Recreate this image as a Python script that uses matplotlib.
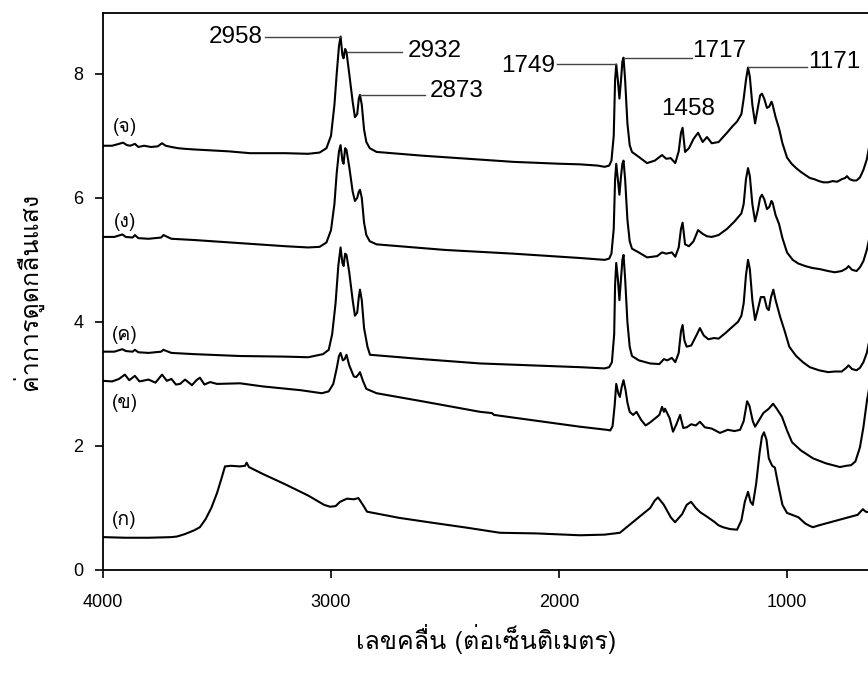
import matplotlib
matplotlib.use("Agg")
import matplotlib.pyplot as plt
from matplotlib import font_manager
from matplotlib.ft2font import FT2Font

# ---- ข้อมูลสเปกตรัม (เลขคลื่น, ค่าการดูดกลืนแสง) อ่านจากรูป ----
wn_a = [4000, 3900, 3800, 3700, 3675, 3640, 3600, 3575, 3550, 3525, 3500, 3480, 3465,
        3440, 3400, 3377, 3370, 3360, 3300, 3200, 3100, 3030, 3004, 2980, 2960, 2930,
        2900, 2880, 2860, 2842, 2700, 2552, 2400, 2259, 2100, 1908, 1800, 1733, 1700,
        1650, 1600, 1580, 1566, 1540, 1510, 1491, 1460, 1440, 1421, 1400, 1380, 1351,
        1320, 1300, 1281, 1250, 1219, 1200, 1185, 1171, 1160, 1150, 1135, 1120, 1110,
        1101, 1090, 1080, 1065, 1053, 1040, 1020, 1000, 978, 950, 920, 900, 886, 860,
        820, 760, 700, 690, 675, 667, 655, 636]
ab_a = [0.53, 0.52, 0.52, 0.53, 0.54, 0.58, 0.64, 0.69, 0.82, 1.00, 1.24, 1.48, 1.67,
        1.68, 1.67, 1.68, 1.73, 1.66, 1.55, 1.38, 1.20, 1.05, 1.02, 1.03, 1.10, 1.15,
        1.14, 1.16, 1.05, 0.94, 0.84, 0.76, 0.68, 0.60, 0.59, 0.56, 0.57, 0.60, 0.70,
        0.85, 1.00, 1.12, 1.17, 1.05, 0.85, 0.77, 0.90, 1.05, 1.10, 1.00, 0.93, 0.86,
        0.78, 0.72, 0.69, 0.66, 0.65, 0.80, 1.10, 1.26, 1.10, 1.05, 1.40, 1.90, 2.15,
        2.22, 2.10, 1.80, 1.68, 1.65, 1.40, 1.05, 0.92, 0.89, 0.85, 0.75, 0.71, 0.69, 0.72,
        0.76, 0.82, 0.88, 0.89, 0.95, 0.98, 0.94, 0.93]

wn_b = [4000, 3960, 3930, 3904, 3885, 3860, 3840, 3800, 3770, 3741, 3720, 3700, 3680,
        3662, 3640, 3610, 3590, 3575, 3555, 3530, 3500, 3399, 3300, 3136, 3040, 3010,
        2990, 2975, 2965, 2958, 2948, 2940, 2932, 2920, 2900, 2890, 2880, 2873, 2860,
        2845, 2800, 2600, 2346, 2294, 2285, 1908, 1790, 1775, 1765, 1756, 1749, 1740,
        1733, 1725, 1717, 1708, 1700, 1690, 1675, 1660, 1640, 1620, 1600, 1560, 1548,
        1540, 1535, 1515, 1500, 1485, 1469, 1455, 1440, 1420, 1400, 1382, 1360, 1330,
        1294, 1260, 1230, 1206, 1190, 1175, 1165, 1150, 1140, 1125, 1104, 1080, 1061,
        1045, 1022, 1000, 978, 940, 886, 830, 768, 740, 719, 700, 680, 665, 649, 636]
ab_b = [3.05, 3.04, 3.08, 3.15, 3.06, 3.13, 3.04, 3.07, 3.02, 3.15, 3.05, 3.08, 2.99,
        3.00, 3.07, 2.98, 3.06, 3.10, 2.99, 3.03, 3.00, 3.01, 2.96, 2.90, 2.85, 2.88,
        3.00, 3.25, 3.45, 3.50, 3.38, 3.40, 3.47, 3.30, 3.12, 3.11, 3.15, 3.19, 3.05,
        2.92, 2.85, 2.72, 2.55, 2.53, 2.50, 2.31, 2.26, 2.25, 2.32, 2.65, 3.00, 2.85,
        2.79, 2.95, 3.06, 2.90, 2.70, 2.55, 2.50, 2.55, 2.42, 2.33, 2.38, 2.50, 2.63,
        2.55, 2.60, 2.45, 2.23, 2.35, 2.50, 2.29, 2.30, 2.35, 2.33, 2.39, 2.30, 2.28,
        2.21, 2.26, 2.24, 2.26, 2.40, 2.72, 2.65, 2.40, 2.31, 2.40, 2.53, 2.60, 2.68,
        2.60, 2.47, 2.25, 2.06, 1.93, 1.80, 1.72, 1.66, 1.68, 1.69, 1.75, 1.98, 2.30, 2.74, 3.00]

wn_c = [4000, 3950, 3915, 3900, 3870, 3860, 3845, 3800, 3745, 3735, 3700, 3600, 3400,
        3200, 3100, 3035, 3010, 2995, 2980, 2968, 2958, 2950, 2945, 2938, 2932, 2920,
        2905, 2895, 2885, 2878, 2873, 2865, 2855, 2840, 2829, 2600, 2346, 1908, 1800,
        1780, 1768, 1758, 1754, 1749, 1742, 1735, 1728, 1722, 1717, 1710, 1700, 1690,
        1680, 1650, 1600, 1560, 1540, 1525, 1505, 1490, 1475, 1465, 1458, 1450, 1440,
        1420, 1395, 1382, 1365, 1345, 1320, 1300, 1270, 1240, 1215, 1200, 1190, 1180,
        1171, 1163, 1152, 1140, 1128, 1115, 1100, 1088, 1080, 1070, 1060, 1050, 1030,
        1010, 990, 960, 930, 900, 860, 820, 790, 760, 740, 730, 715, 695, 680, 665, 650, 636]
ab_c = [3.52, 3.52, 3.56, 3.53, 3.52, 3.55, 3.51, 3.50, 3.52, 3.55, 3.50, 3.48, 3.45,
        3.44, 3.43, 3.48, 3.55, 3.80, 4.30, 4.90, 5.20, 4.95, 4.90, 5.10, 5.08, 4.80,
        4.35, 4.10, 4.15, 4.40, 4.52, 4.35, 3.90, 3.60, 3.47, 3.40, 3.33, 3.27, 3.25,
        3.27, 3.35, 3.80, 4.60, 4.95, 4.70, 4.35, 4.70, 5.00, 5.08, 4.70, 4.00, 3.60,
        3.45, 3.38, 3.33, 3.32, 3.40, 3.38, 3.42, 3.35, 3.50, 3.85, 3.95, 3.70, 3.60,
        3.62, 3.80, 3.90, 3.78, 3.72, 3.74, 3.73, 3.82, 3.92, 4.00, 4.10, 4.30, 4.75,
        5.00, 4.85, 4.35, 4.03, 4.20, 4.40, 4.40, 4.22, 4.19, 4.40, 4.52, 4.35, 4.08,
        3.85, 3.60, 3.45, 3.35, 3.27, 3.22, 3.19, 3.20, 3.20, 3.26, 3.30, 3.24, 3.22,
        3.26, 3.35, 3.50, 3.75]

wn_d = [4000, 3950, 3915, 3900, 3870, 3860, 3845, 3800, 3745, 3735, 3700, 3600, 3400,
        3200, 3100, 3050, 3020, 3000, 2985, 2975, 2965, 2958, 2950, 2945, 2938, 2932,
        2920, 2905, 2895, 2885, 2878, 2873, 2865, 2855, 2845, 2830, 2800, 2500, 2200,
        1908, 1800, 1780, 1770, 1760, 1754, 1749, 1742, 1735, 1728, 1722, 1717, 1710,
        1700, 1690, 1680, 1650, 1614, 1570, 1548, 1530, 1505, 1490, 1475, 1465, 1458,
        1447, 1430, 1410, 1390, 1370, 1351, 1330, 1300, 1263, 1230, 1200, 1190, 1180,
        1171, 1163, 1152, 1140, 1128, 1118, 1110, 1100, 1088, 1078, 1068, 1063, 1050,
        1035, 1020, 1000, 975, 950, 920, 890, 855, 820, 790, 760, 740, 730, 715, 695,
        680, 665, 650, 636]
ab_d = [5.37, 5.37, 5.41, 5.37, 5.36, 5.40, 5.35, 5.34, 5.36, 5.40, 5.34, 5.32, 5.27,
        5.22, 5.20, 5.21, 5.28, 5.48, 5.90, 6.40, 6.75, 6.85, 6.60, 6.55, 6.80, 6.77,
        6.50, 6.10, 5.95, 6.00, 6.10, 6.13, 6.00, 5.60, 5.40, 5.30, 5.25, 5.16, 5.10,
        5.03, 5.00, 5.02, 5.10, 5.50, 6.30, 6.55, 6.30, 6.05, 6.35, 6.55, 6.60, 6.30,
        5.65, 5.30, 5.18, 5.12, 5.04, 5.06, 5.12, 5.10, 5.12, 5.05, 5.20, 5.50, 5.60,
        5.25, 5.22, 5.30, 5.48, 5.42, 5.38, 5.37, 5.40, 5.50, 5.62, 5.75, 5.90, 6.30,
        6.48, 6.35, 5.90, 5.62, 5.80, 6.00, 6.05, 5.98, 5.82, 5.85, 5.95, 5.92, 5.72,
        5.58, 5.35, 5.12, 5.00, 4.94, 4.90, 4.87, 4.85, 4.82, 4.80, 4.82, 4.86, 4.90,
        4.84, 4.82, 4.88, 4.98, 5.16, 5.40]

wn_e = [4000, 3960, 3930, 3912, 3895, 3880, 3860, 3845, 3820, 3790, 3760, 3741, 3725,
        3700, 3670, 3640, 3600, 3550, 3500, 3450, 3355, 3200, 3100, 3050, 3020, 3000,
        2985, 2975, 2965, 2958, 2950, 2945, 2938, 2932, 2920, 2905, 2895, 2885, 2878,
        2873, 2865, 2855, 2845, 2830, 2800, 2600, 2400, 2200, 2000, 1908, 1830, 1800,
        1780, 1770, 1760, 1754, 1749, 1742, 1735, 1728, 1722, 1717, 1710, 1700, 1690,
        1680, 1650, 1614, 1580, 1548, 1530, 1510, 1490, 1475, 1465, 1458, 1447, 1430,
        1410, 1390, 1370, 1351, 1330, 1300, 1263, 1240, 1219, 1200, 1190, 1180, 1171,
        1163, 1152, 1140, 1128, 1118, 1110, 1100, 1088, 1078, 1068, 1063, 1050, 1035,
        1020, 1000, 980, 960, 940, 920, 900, 880, 860, 840, 820, 800, 780, 760, 745,
        737, 725, 710, 695, 680, 665, 650, 636]
ab_e = [6.84, 6.84, 6.87, 6.89, 6.85, 6.84, 6.87, 6.82, 6.84, 6.82, 6.83, 6.88, 6.84,
        6.82, 6.80, 6.79, 6.78, 6.77, 6.76, 6.75, 6.72, 6.72, 6.71, 6.73, 6.80, 7.00,
        7.50, 8.00, 8.45, 8.60, 8.30, 8.25, 8.40, 8.35, 8.00, 7.55, 7.30, 7.35, 7.60,
        7.66, 7.50, 7.10, 6.90, 6.80, 6.74, 6.68, 6.63, 6.58, 6.55, 6.54, 6.52, 6.50,
        6.52, 6.60, 7.00, 7.90, 8.15, 7.90, 7.60, 7.90, 8.20, 8.26, 7.90, 7.20, 6.85,
        6.74, 6.66, 6.56, 6.60, 6.69, 6.63, 6.64, 6.56, 6.75, 7.05, 7.13, 6.74, 6.80,
        6.95, 7.05, 6.90, 6.98, 6.88, 6.90, 7.05, 7.15, 7.23, 7.35, 7.60, 7.90, 8.10,
        7.95, 7.50, 7.20, 7.45, 7.65, 7.68, 7.60, 7.45, 7.47, 7.55, 7.50, 7.30, 7.12,
        6.88, 6.65, 6.55, 6.48, 6.42, 6.37, 6.32, 6.30, 6.27, 6.25, 6.25, 6.27, 6.26,
        6.30, 6.32, 6.35, 6.30, 6.28, 6.28, 6.33, 6.45, 6.62, 6.90]

spectra = [(wn_a, ab_a), (wn_b, ab_b), (wn_c, ab_c), (wn_d, ab_d), (wn_e, ab_e)]
names = ["(ก)", "(ข)", "(ค)", "(ง)", "(จ)"]
name_y = [0.81, 2.69, 3.79, 5.61, 7.15]

peaks = [2958, 2932, 2873, 1749, 1717, 1171]
peak_y = [8.60, 8.35, 7.65, 8.15, 8.26, 8.11]
label_end = [3290, 2689, 2588, 2009, 1417, 912]


# ---- หาฟอนต์ที่มีอักษรไทย ----
def thai_font():
    for f in font_manager.fontManager.ttflist:
        try:
            if ord("ก") in FT2Font(f.fname).get_charmap():
                return f.name
        except Exception:
            pass
    return "DejaVu Sans"


thai = [thai_font(), "DejaVu Sans"]
num_font = "Liberation Sans"

fig = plt.figure(figsize=(8.68, 6.75), dpi=100)
ax = fig.add_axes([103 / 868, 105 / 675, 767 / 868, 557 / 675])

for (wn, ab) in spectra:
    ax.plot(wn, ab, color="black", lw=1.5)

for name, y in zip(names, name_y):
    ax.text(3905, y, name, family=thai, fontsize=14, ha="center", va="center")

# เส้นชี้ตำแหน่งพีค
for p, y, e in zip(peaks, peak_y, label_end):
    ax.plot([p, e], [y, y], color="#444444", lw=1)

ax.text(3300, 8.60, "2958", family=num_font, fontsize=17.5, ha="right", va="center")
ax.text(2662, 8.36, "2932", family=num_font, fontsize=17.5, ha="left", va="center")
ax.text(2566, 7.73, "2873", family=num_font, fontsize=17.5, ha="left", va="center")
ax.text(2018, 8.13, "1749", family=num_font, fontsize=17.5, ha="right", va="center")
ax.text(1417, 8.37, "1717", family=num_font, fontsize=17.5, ha="left", va="center")
ax.text(908, 8.19, "1171", family=num_font, fontsize=17.5, ha="left", va="center")
ax.text(1434, 7.44, "1458", family=num_font, fontsize=17.5, ha="center", va="center")

ax.set_xlim(4000, 636)
ax.set_ylim(0, 8.98)
ax.set_xticks([4000, 3000, 2000, 1000])
ax.set_yticks([0, 2, 4, 6, 8])
ax.tick_params(direction="out", length=6, width=1.2, labelsize=13)
ax.tick_params(axis="y", pad=8)
ax.tick_params(axis="x", pad=11)
for lab in ax.get_xticklabels() + ax.get_yticklabels():
    lab.set_family(num_font)
for s in ax.spines.values():
    s.set_linewidth(1.3)

ax.set_xlabel("เลขคลื่น (ต่อเซ็นติเมตร)", family=thai, fontsize=18, labelpad=10)
ax.set_ylabel("ค่าการดูดกลืนแสง", family=thai, fontsize=18, labelpad=22)

fig.savefig("out.png", dpi=100)
